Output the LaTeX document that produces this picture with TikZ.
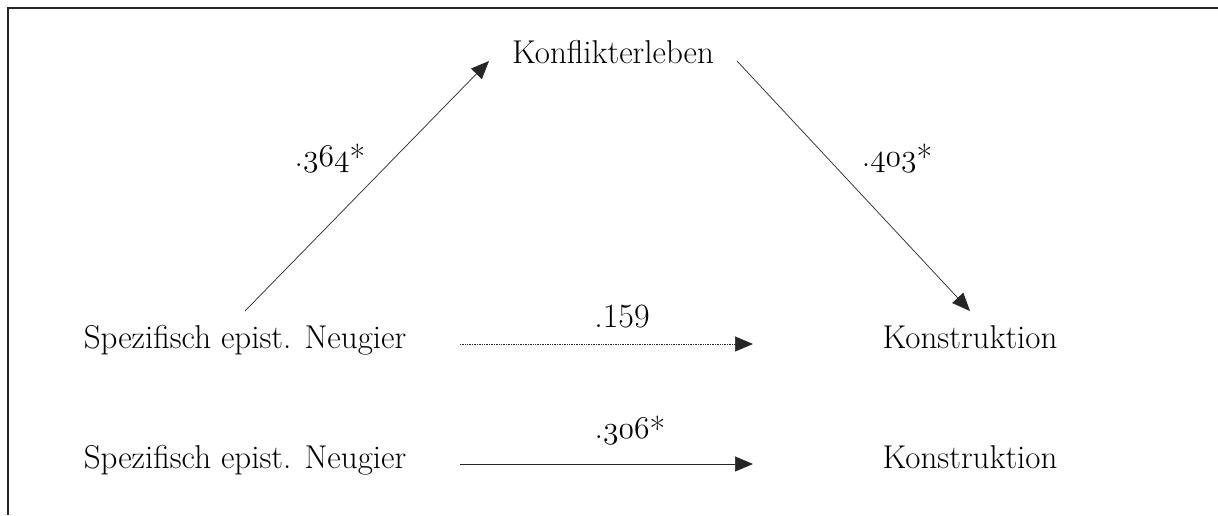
\documentclass[tikz,border=0pt]{standalone}
\usepackage{graphicx}
\usetikzlibrary{arrows.meta}
\begin{document}
\begin{tikzpicture}[x=1pt,y=-1pt,
  lbl/.style={anchor=base,inner sep=0pt,font=\fontsize{33}{38}\selectfont},
  num/.style={anchor=base,inner sep=0pt,font=\fontsize{34}{38}\selectfont},
  path/.style={draw=black!85,line width=0.7pt,-{Triangle[length=18pt,width=15pt]}},
  frameline/.style={draw=black!85,line width=1.5pt}]
\newcommand{\sig}{\raisebox{-0.1em}{*}}
\newcommand{\osn}[1]{\scalebox{1.27}{\fontsize{24.88}{30}\selectfont\legacyoldstylenums{#1}}}
\useasboundingbox (0,0) rectangle (1218,515);
\draw[frameline] (7,8) -- (1218,8);
\draw[frameline] (8,8) -- (8,515);
% nodes
\node[lbl] (konf) at (613,63) {Konflikterleben};
\node[lbl] (neu1) at (245,348) {Spezifisch epist. Neugier};
\node[lbl] (kon1) at (970,348) {Konstruktion};
\node[lbl] (neu2) at (245,468) {Spezifisch epist. Neugier};
\node[lbl] (kon2) at (970,468) {Konstruktion};
% connector end points
\coordinate (a1) at (245,311);
\coordinate (a2) at (489,61);
\coordinate (b1) at (737,61);
\coordinate (b2) at (970,311);
\coordinate (c1) at (460,344);
\coordinate (c2) at (753,344);
\coordinate (d1) at (460,464);
\coordinate (d2) at (753,464);
\draw[path] (a1) -- (a2);
\draw[path] (b1) -- (b2);
\draw[path,densely dotted] (c1) -- (c2);
\draw[path] (d1) -- (d2);
% labels
\node[num] (l1) at (330,166) {.\osn{364}\sig};
\node[num] (l2) at (897,166) {.\osn{403}\sig};
\node[num] (l3) at (622,327) {.159};
\node[num] (l4) at (630,438) {.\osn{306}\sig};
\end{tikzpicture}
\end{document}
